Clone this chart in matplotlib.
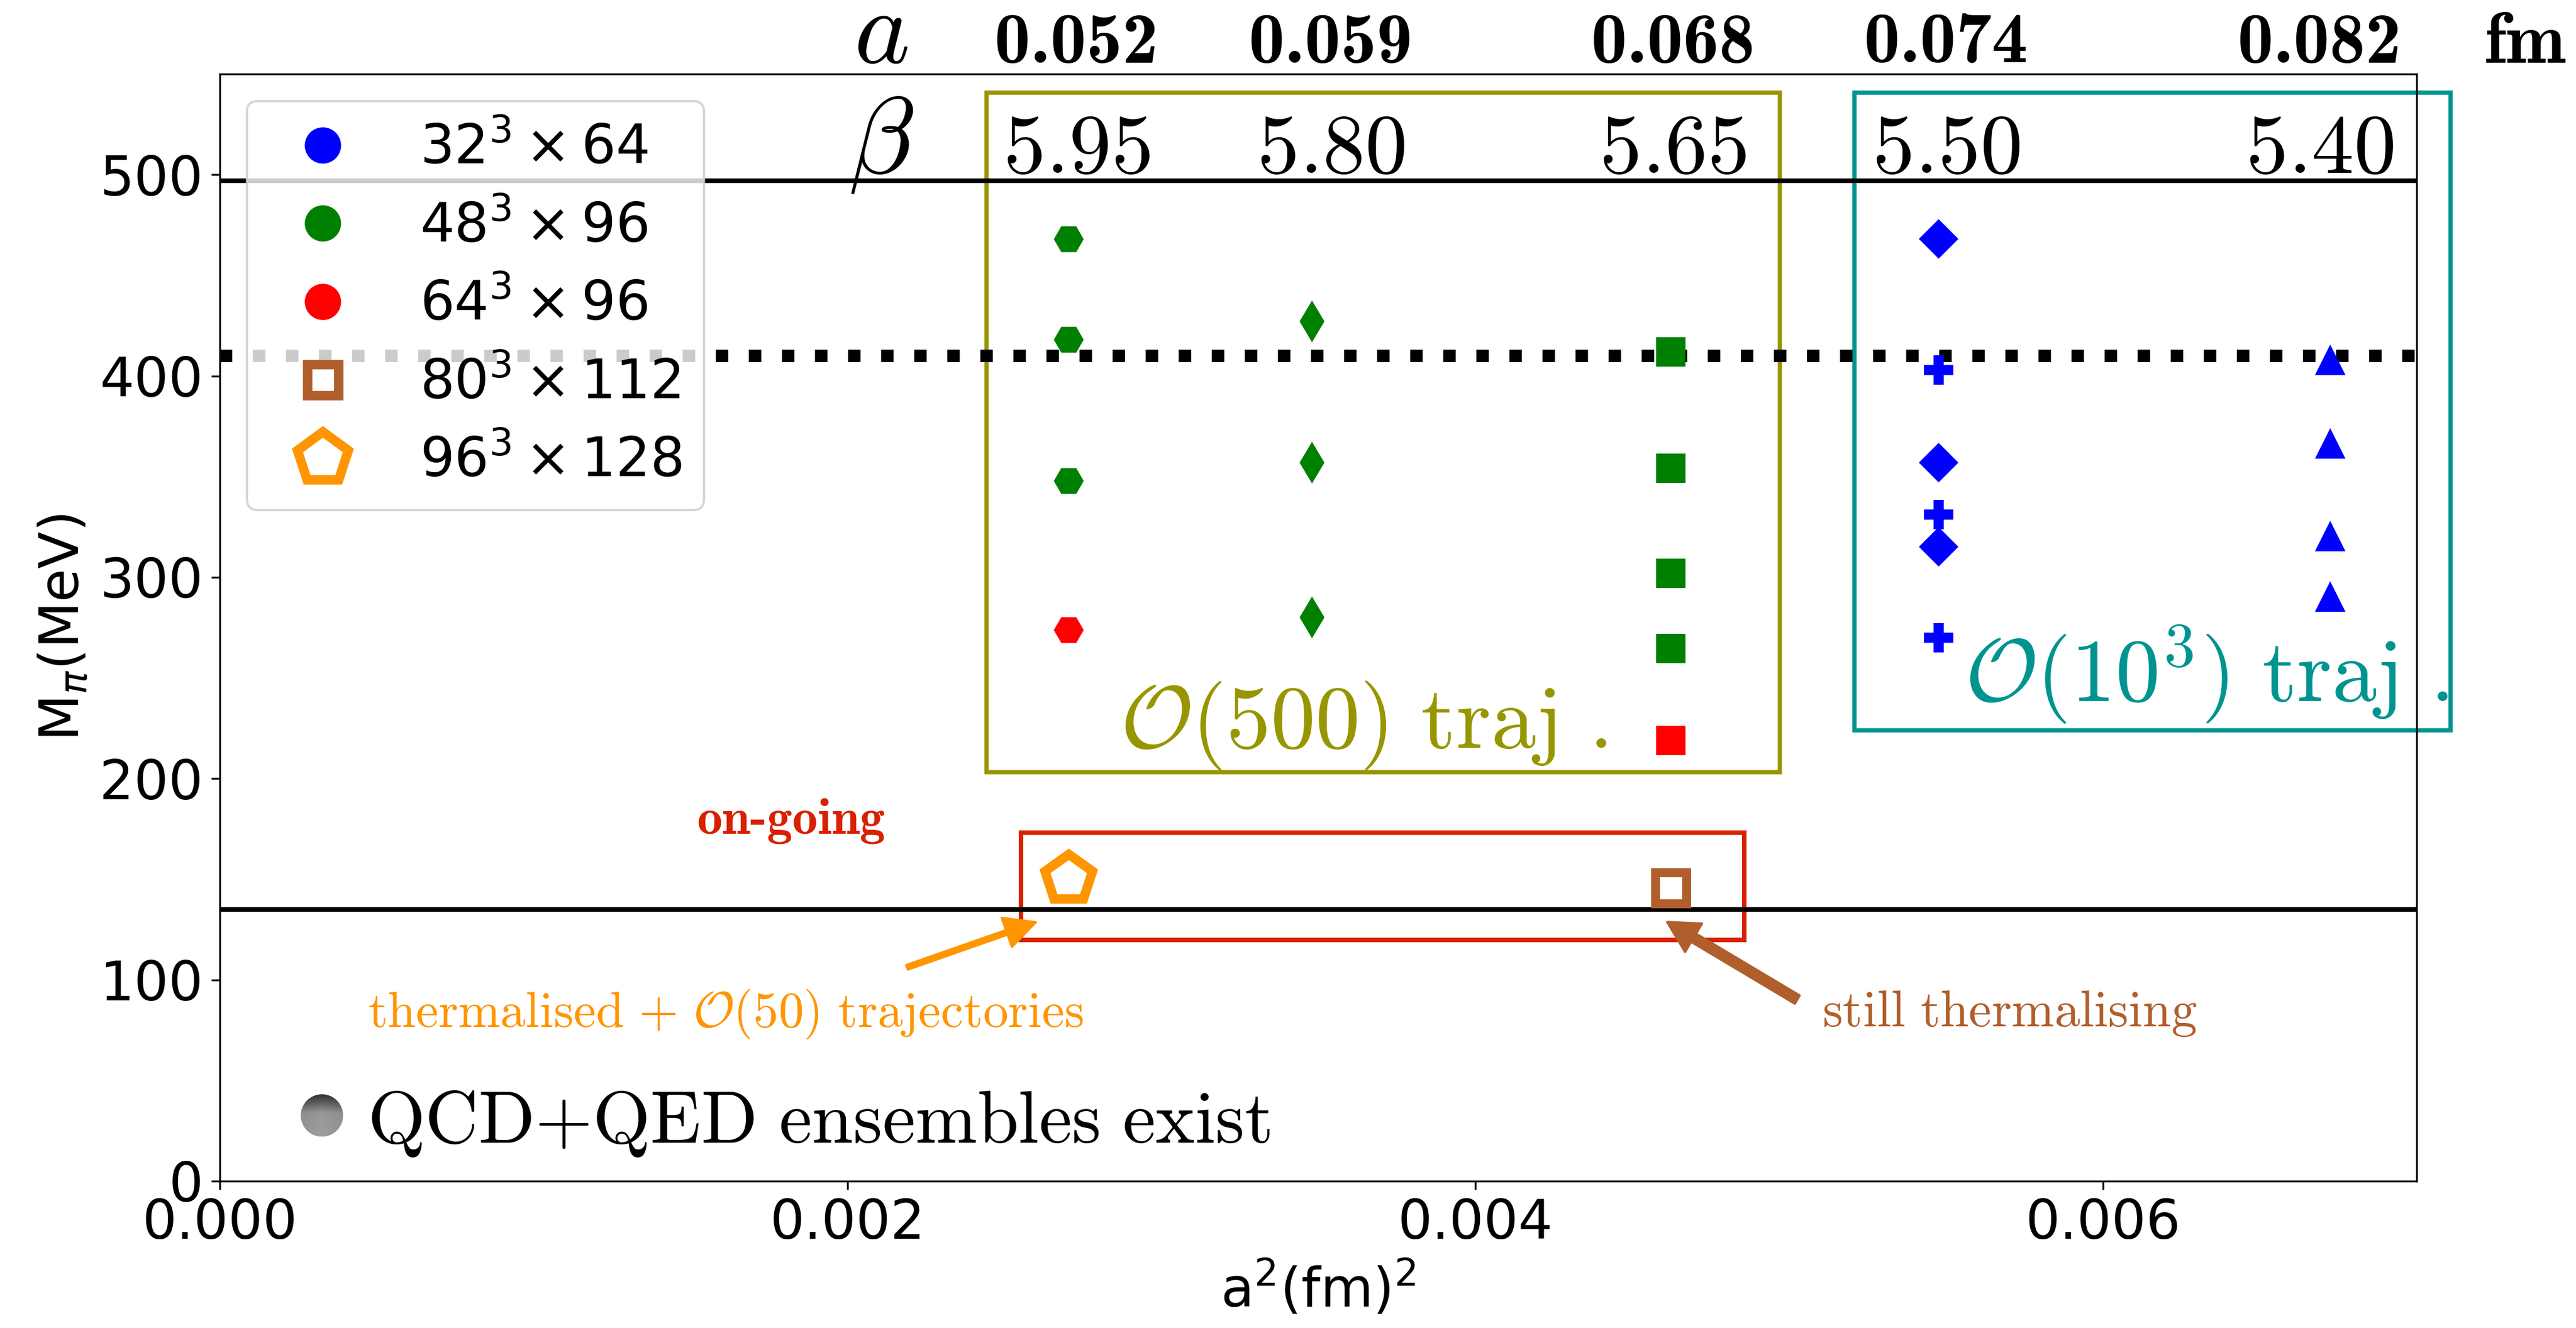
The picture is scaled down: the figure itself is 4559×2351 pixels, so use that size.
import os
import numpy as np
import matplotlib
matplotlib.use('Agg')
import matplotlib.pyplot as plt
from matplotlib.lines import Line2D
from matplotlib.patches import Rectangle, Circle
from matplotlib.font_manager import FontProperties

# lattice spacings, couplings and a^2 (fm^2)
a_labels = ['0.052', '0.059', '0.068', '0.074', '0.082']
beta_labels = ['5.95', '5.80', '5.65', '5.50', '5.40']
a2 = [0.002704, 0.003481, 0.004624, 0.005476, 0.006724]

# pion masses (MeV)
mpi_595_48 = [468, 418, 348]
mpi_595_64 = [274]
mpi_580_48 = [427, 357, 280]
mpi_565_48 = [412, 354, 302, 264.5]
mpi_565_64 = [219]
mpi_550_32_D = [468, 357, 315]
mpi_550_32_P = [403, 331, 270]
mpi_540_32 = [408, 366.5, 320.5, 290.5]
mpi_595_96 = [150]     # 96^3 x 128, thermalised
mpi_565_80 = [145.5]   # 80^3 x 112, still thermalising

mpi_phys = 135
mpi_sym = 410
beta_line = 497

legend_labels = [r'$32^3\times64$', r'$48^3\times96$', r'$64^3\times96$',
                 r'$80^3\times112$', r'$96^3\times128$']

olive = '#979600'
teal = '#009490'
boxred = '#d82100'
orange = '#ff9500'
brown = '#b05f2c'

# computer modern bold shipped with matplotlib
cmb = os.path.join(matplotlib.get_data_path(), 'fonts', 'ttf', 'cmb10.ttf')

fig = plt.figure(figsize=(4559 / 300, 2351 / 300), dpi=300)
ax = fig.add_axes([0.08526, 0.1106, 0.85294, 0.8337])

ax.axhline(beta_line, color='k', lw=2)
ax.axhline(mpi_phys, color='k', lw=2)
ax.axhline(mpi_sym, color='k', lw=5.3, ls=':')

ax.plot([a2[0]] * 3, mpi_595_48, 'H', color='green', ms=12.7, mew=0)
ax.plot([a2[0]], mpi_595_64, 'H', color='red', ms=12.7, mew=0)
ax.plot([a2[1]] * 3, mpi_580_48, 'd', color='green', ms=12.6, mew=0)
ax.plot([a2[2]] * 4, mpi_565_48, 's', color='green', ms=12.3, mew=0)
ax.plot([a2[2]], mpi_565_64, 's', color='red', ms=12.3, mew=0)
ax.plot([a2[3]] * 3, mpi_550_32_D, 'D', color='blue', ms=11.9, mew=0)
ax.plot([a2[3]] * 3, mpi_550_32_P, 'P', color='blue', ms=12.3, mew=0)
ax.plot([a2[4]] * 4, mpi_540_32, '^', color='blue', ms=13, mew=0)
ax.plot([a2[0]], mpi_595_96, 'p', ms=21, mfc='white', mec=orange, mew=4)
ax.plot([a2[2]], mpi_565_80, 's', ms=13.2, mfc='white', mec=brown, mew=3.8)

# boxes
ax.add_patch(Rectangle((0.002444, 203.2), 0.00497 - 0.002444, 540.8 - 203.2,
                       fill=False, ec=olive, lw=1.8, clip_on=False))
ax.add_patch(Rectangle((0.005208, 223.9), 0.007108 - 0.005208, 540.8 - 223.9,
                       fill=False, ec=teal, lw=1.8, clip_on=False))
ax.add_patch(Rectangle((0.002553, 119.7), 0.004857 - 0.002553, 173 - 119.7,
                       fill=False, ec=boxred, lw=1.9, clip_on=False))

# header rows with a and beta
lab_x = [0.00273, 0.00354, 0.00463, 0.0055, 0.00669]
ax.text(0.002107, 555.6, r'$a$', fontsize=45, ha='center', va='baseline',
        math_fontfamily='cm', clip_on=False)
ax.text(0.002107, 501, r'$\beta$', fontsize=46, ha='center', va='baseline',
        math_fontfamily='cm', clip_on=False)
for x, la, lb in zip(lab_x, a_labels, beta_labels):
    ax.text(x, 555.6, la, fontproperties=FontProperties(fname=cmb, size=30.5),
            ha='center', va='baseline', clip_on=False)
    ax.text(x, 501, r'$%s$' % lb, fontsize=36, ha='center', va='baseline',
            math_fontfamily='cm', clip_on=False)
ax.text(0.007346, 555.6, 'fm', fontproperties=FontProperties(fname=cmb, size=30.5),
        ha='center', va='baseline', clip_on=False)

ax.text(0.002868, 215.2, r'$\mathcal{O}(500)\ \mathrm{traj}\ .$', fontsize=38,
        color=olive, va='baseline', math_fontfamily='cm')
ax.text(0.00556, 238.2, r'$\mathcal{O}(10^3)\ \mathrm{traj}\ .$', fontsize=38,
        color=teal, va='baseline', math_fontfamily='cm', clip_on=False)

ax.text(0.00152, 172.8, 'on-going', fontproperties=FontProperties(fname=cmb, size=21.5),
        color=boxred, va='baseline')
ax.text(0.000473, 76.7,
        r'$\mathrm{thermalised}\ {+}\ \mathcal{O}(50)\ \mathrm{trajectories}$',
        fontsize=21.5, color=orange, va='baseline', math_fontfamily='cm')
ax.text(0.005106, 77, r'$\mathrm{still\ thermalising}$', fontsize=21.8,
        color=brown, va='baseline', math_fontfamily='cm')
ax.text(0.000471, 19.1, r'$\mathrm{QCD{+}QED\ ensembles\ exist}$', fontsize=31.5,
        va='baseline', math_fontfamily='cm')

ax.annotate('', xy=(0.0026, 128.6), xytext=(0.00219, 106.2),
            arrowprops=dict(arrowstyle='simple,head_length=0.65,head_width=0.65,tail_width=0.1',
                            color=orange, shrinkA=0, shrinkB=0, mutation_scale=20))
ax.annotate('', xy=(0.004612, 128.7), xytext=(0.005026, 90.2),
            arrowprops=dict(arrowstyle='simple,head_length=0.65,head_width=0.7,tail_width=0.2',
                            color=brown, shrinkA=0, shrinkB=0, mutation_scale=20))

# shaded ball next to the QCD+QED note
sph = ax.inset_axes([0.000326 - 0.0000675, 32.6 - 10.55, 0.000135, 21.1],
                    transform=ax.transData)
yy, xx = np.mgrid[0:1:120j, 0:1:120j]
shade = 0.18 + 0.4 * np.clip(yy / 0.45, 0, 1) + 0.04 * yy
shade = shade - 0.08 * np.abs(xx - 0.5)
im = sph.imshow(shade, cmap='gray', vmin=0, vmax=1, extent=[0, 1, 0, 1],
                aspect='auto', interpolation='bilinear')
im.set_clip_path(Circle((0.5, 0.5), 0.5, transform=sph.transAxes))
sph.axis('off')

ax.set_xlim(0, 0.007)
ax.set_ylim(0, 550)
ax.set_xticks([0, 0.002, 0.004, 0.006])
ax.xaxis.set_major_formatter(matplotlib.ticker.FormatStrFormatter('%.3f'))
ax.set_yticks([0, 100, 200, 300, 400, 500])
ax.tick_params(labelsize=23)
ax.set_xlabel(r'a$^2$(fm)$^2$', fontsize=23)
ax.set_ylabel(r'M$_\pi$(MeV)', fontsize=23)

handles = [
    Line2D([], [], ls='none', marker='o', ms=14.4, color='blue'),
    Line2D([], [], ls='none', marker='o', ms=14.4, color='green'),
    Line2D([], [], ls='none', marker='o', ms=14.4, color='red'),
    Line2D([], [], ls='none', marker='s', ms=13.2, mfc='white', mec=brown, mew=4),
    Line2D([], [], ls='none', marker='p', ms=22.5, mfc='white', mec=orange, mew=4),
]
ax.legend(handles, legend_labels, loc='upper left', fontsize=23, labelspacing=0.475)

fig.savefig('out.png', dpi=300)
